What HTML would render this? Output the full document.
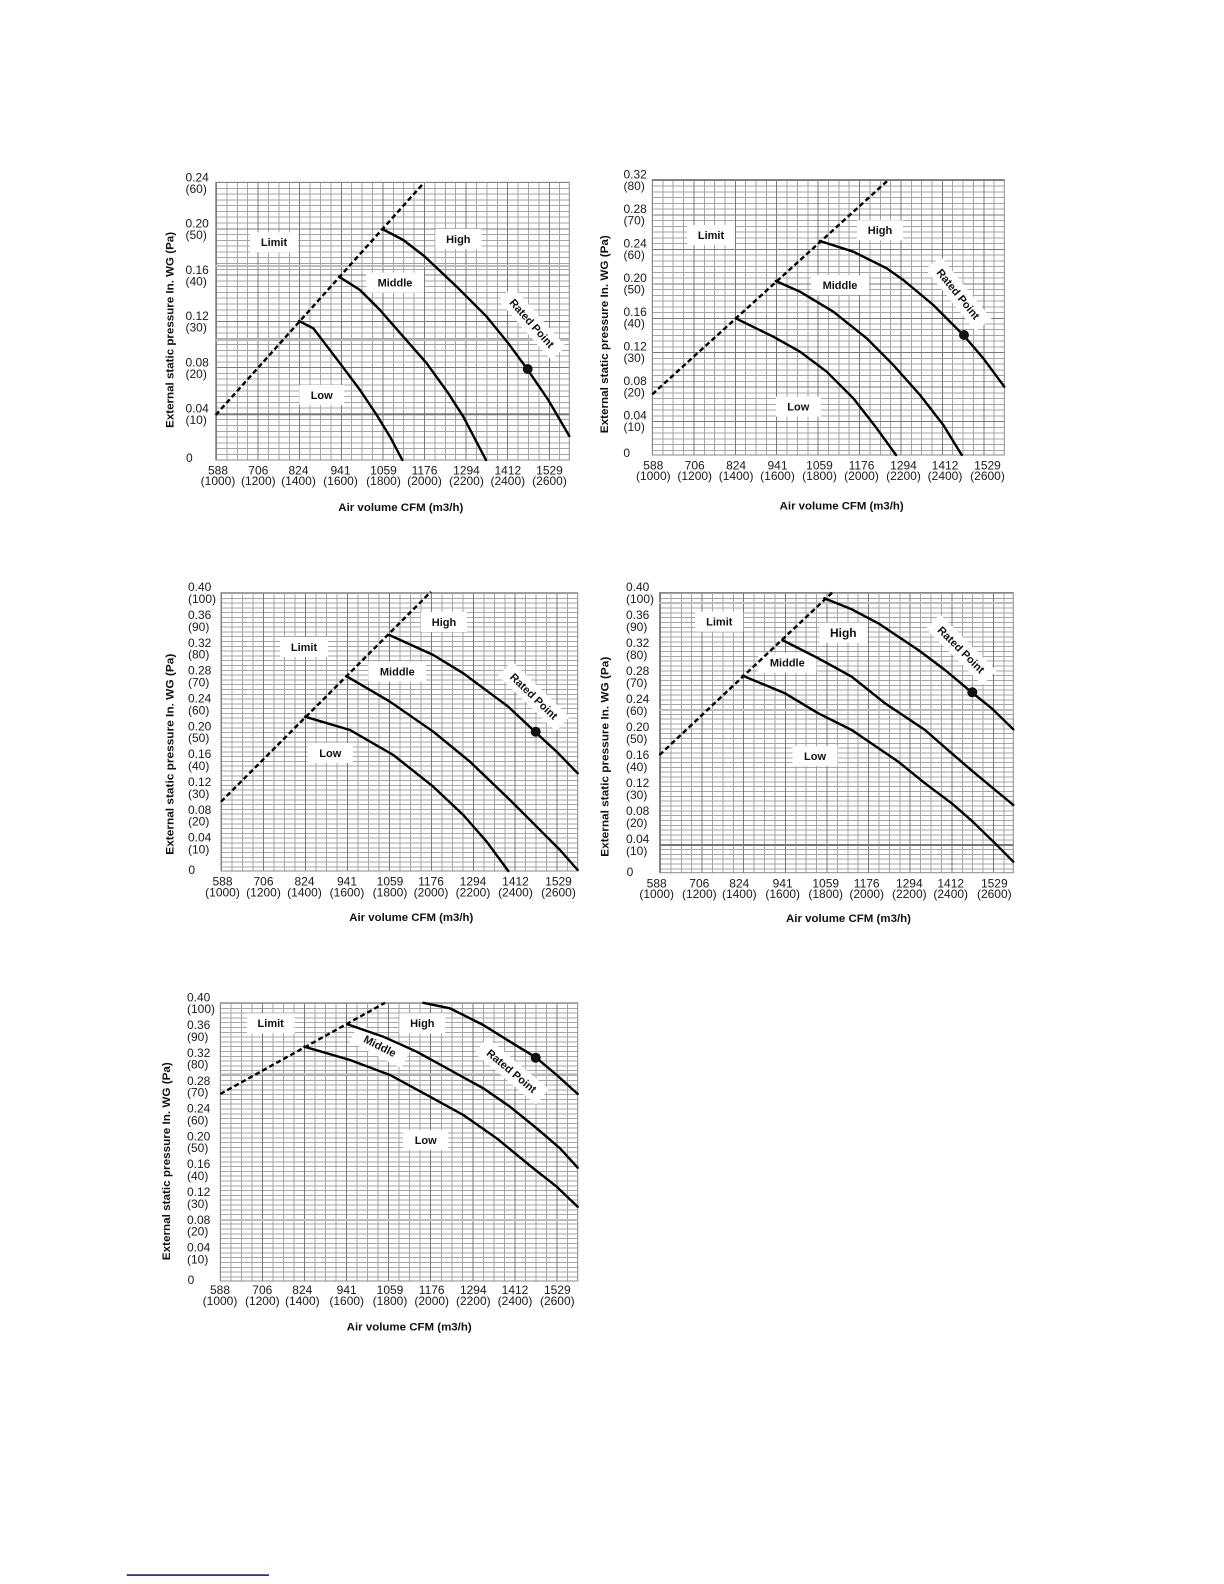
<!DOCTYPE html>
<html>
<head>
<meta charset="utf-8">
<style>
html,body{margin:0;padding:0;background:#fff;}
#wrap{position:relative;width:1224px;height:1584px;overflow:hidden;background:#fff;}
.g{position:absolute;}
svg{position:absolute;left:0;top:0;}
.t{font-family:"Liberation Sans",Arial,sans-serif;font-size:12px;fill:#1a1a1a;}
.lb{font-family:"Liberation Sans",Arial,sans-serif;font-size:11px;font-weight:bold;fill:#111;text-anchor:middle;}
.ti{font-family:"Liberation Sans",Arial,sans-serif;font-size:11px;font-weight:bold;fill:#111;text-anchor:middle;}
.c{fill:none;stroke:#000;stroke-width:2.4;stroke-linejoin:round;stroke-linecap:round;}
.d{fill:none;stroke:#000;stroke-width:2.4;stroke-dasharray:5,3;}
.fr{fill:none;stroke:#8a8a8a;stroke-width:1;}
</style>
</head>
<body>
<div id="wrap">

<div class="g" style="left:215.7px;top:182.3px;width:353.6px;height:277.7px;background:
repeating-linear-gradient(90deg,#7a7a7a 0 1px,transparent 1px 41.6px),
repeating-linear-gradient(180deg,#7a7a7a 0 1px,transparent 1px 46.28px),
repeating-linear-gradient(90deg,#a6a6a6 0 1px,transparent 1px 10.4px),
repeating-linear-gradient(180deg,#a6a6a6 0 1px,transparent 1px 5.785px);"></div>

<div class="g" style="left:652.3px;top:179.5px;width:352px;height:275.5px;background:
repeating-linear-gradient(90deg,#7a7a7a 0 1px,transparent 1px 41.41px),
repeating-linear-gradient(180deg,#7a7a7a 0 1px,transparent 1px 34.44px),
repeating-linear-gradient(90deg,#a6a6a6 0 1px,transparent 1px 10.353px),
repeating-linear-gradient(180deg,#a6a6a6 0 1px,transparent 1px 5.74px);"></div>

<div class="g" style="left:221px;top:592.7px;width:356.7px;height:278.3px;background:
repeating-linear-gradient(90deg,#7a7a7a 0 1px,transparent 1px 41.96px),
repeating-linear-gradient(90deg,#a6a6a6 0 1px,transparent 1px 10.491px),
repeating-linear-gradient(180deg,#a6a6a6 0 1px,transparent 1px 4.798px);"></div>

<div class="g" style="left:659.5px;top:592.5px;width:353.8px;height:280.2px;background:
repeating-linear-gradient(90deg,#7a7a7a 0 1px,transparent 1px 41.62px),
repeating-linear-gradient(90deg,#a6a6a6 0 1px,transparent 1px 10.406px),
repeating-linear-gradient(180deg,#a6a6a6 0 1px,transparent 1px 4.831px);"></div>

<div class="g" style="left:220.3px;top:1002.8px;width:357.4px;height:278.2px;background:
repeating-linear-gradient(90deg,#7a7a7a 0 1px,transparent 1px 42.05px),
repeating-linear-gradient(90deg,#a6a6a6 0 1px,transparent 1px 10.512px),
repeating-linear-gradient(180deg,#a6a6a6 0 1px,transparent 1px 4.797px);"></div>

<svg width="1224" height="1584" viewBox="0 0 1224 1584" xmlns="http://www.w3.org/2000/svg">
<!-- frames -->
<rect class="fr" x="215.7" y="182.3" width="353.6" height="277.7"/>
<rect class="fr" x="652.3" y="179.5" width="352" height="275.5"/>
<rect class="fr" x="221" y="592.7" width="356.7" height="278.3"/>
<rect class="fr" x="659.5" y="592.5" width="353.8" height="280.2"/>
<rect class="fr" x="220.3" y="1002.8" width="357.4" height="278.2"/>

<!-- scan artifact bands -->
<rect x="215.7" y="265" width="353.6" height="2" fill="#bdbdbd"/>
<rect x="215.7" y="339" width="353.6" height="2" fill="#bdbdbd"/>
<rect x="215.7" y="413.3" width="353.6" height="2" fill="#777"/>
<rect x="659.5" y="602" width="353.8" height="2" fill="#bdbdbd"/>
<rect x="659.5" y="709" width="353.8" height="2" fill="#bdbdbd"/>
<rect x="659.5" y="844" width="353.8" height="2" fill="#777"/>
<rect x="220.3" y="1073.3" width="357.4" height="2" fill="#bdbdbd"/>
<rect x="220.3" y="1219" width="357.4" height="2" fill="#bdbdbd"/>

<!-- ===== Chart 1 ===== -->
<g fill="#fff">
<rect x="250" y="232.3" width="48" height="20"/>
<rect x="435.3" y="229" width="46" height="20"/>
<rect x="366" y="272.7" width="58" height="20"/>
<rect x="299.2" y="385" width="45" height="20"/>
<rect x="-40" y="-10" width="80" height="20" transform="translate(532,323.3) rotate(48.5)"/>
</g>
<polyline class="d" points="215.7,415 424,182.7"/>
<polyline class="c" points="382.3,229 403.3,240 425,256.7 456.7,286.7 486.7,316.7 508.3,343.3 526.7,368.3 548.3,400 569.3,436"/>
<polyline class="c" points="339,276.7 360,290 380,310 403.3,336.7 426.7,363.3 448.3,393.3 463.3,416.7 486,460"/>
<polyline class="c" points="299,321 313.3,328.3 340,363.3 360,390 376.7,415 390,436.7 402.3,460"/>
<circle cx="527.7" cy="369" r="5" fill="#111"/>
<text class="lb" x="274" y="246.2">Limit</text>
<text class="lb" x="458.3" y="242.9">High</text>
<text class="lb" x="395" y="286.6">Middle</text>
<text class="lb" x="321.7" y="398.9">Low</text>
<text class="lb" x="0" y="3.9" transform="translate(532,323.3) rotate(48.5)">Rated Point</text>
<g class="t">
<text x="185.5" y="181.3">0.24</text><text x="185.5" y="192.8">(60)</text>
<text x="185.5" y="227.6">0.20</text><text x="185.5" y="239.1">(50)</text>
<text x="185.5" y="273.9">0.16</text><text x="185.5" y="285.4">(40)</text>
<text x="185.5" y="320.2">0.12</text><text x="185.5" y="331.7">(30)</text>
<text x="185.5" y="366.4">0.08</text><text x="185.5" y="377.9">(20)</text>
<text x="185.5" y="412.7">0.04</text><text x="185.5" y="424.2">(10)</text>
<text x="189.3" y="462" text-anchor="middle">0</text>
</g>
<g class="t" text-anchor="middle">
<text x="218" y="474.5">588</text><text x="218" y="485">(1000)</text>
<text x="258.3" y="474.5">706</text><text x="258.3" y="485">(1200)</text>
<text x="298.5" y="474.5">824</text><text x="298.5" y="485">(1400)</text>
<text x="340.5" y="474.5">941</text><text x="340.5" y="485">(1600)</text>
<text x="383.5" y="474.5">1059</text><text x="383.5" y="485">(1800)</text>
<text x="424.5" y="474.5">1176</text><text x="424.5" y="485">(2000)</text>
<text x="466.5" y="474.5">1294</text><text x="466.5" y="485">(2200)</text>
<text x="507.8" y="474.5">1412</text><text x="507.8" y="485">(2400)</text>
<text x="549.5" y="474.5">1529</text><text x="549.5" y="485">(2600)</text>
</g>
<text class="ti" transform="translate(173.3,329.9) rotate(-90)" x="0" y="0" textLength="196" lengthAdjust="spacingAndGlyphs">External static pressure In. WG (Pa)</text>
<text class="ti" x="400.8" y="511" textLength="125" lengthAdjust="spacingAndGlyphs">Air volume CFM (m3/h)</text>

<!-- ===== Chart 2 ===== -->
<g fill="#fff">
<rect x="687" y="225" width="48" height="20"/>
<rect x="857" y="220.3" width="46" height="20"/>
<rect x="811" y="275" width="58" height="20"/>
<rect x="775.8" y="396.7" width="45" height="20"/>
<rect x="-40" y="-10" width="80" height="20" transform="translate(958.3,294) rotate(51)"/>
</g>
<polyline class="d" points="652.3,394.3 888.3,180"/>
<polyline class="c" points="820,241 853.3,251.7 886.7,268.3 903.3,280 933.3,305 963.3,335 983.3,358.3 1004.3,386.7"/>
<polyline class="c" points="775.7,281 800,291.7 833.3,311.7 866.7,338.3 893.3,365 920,395 943.3,425 961.7,455"/>
<polyline class="c" points="735.7,318.3 773.3,336.7 800,351.7 826.7,371.7 853.3,398.3 876.7,428.3 896,455"/>
<circle cx="964" cy="335" r="5" fill="#111"/>
<text class="lb" x="711" y="238.9">Limit</text>
<text class="lb" x="880" y="234.2">High</text>
<text class="lb" x="840" y="288.9">Middle</text>
<text class="lb" x="798.3" y="410.6">Low</text>
<text class="lb" x="0" y="3.9" transform="translate(958.3,294) rotate(51)">Rated Point</text>
<g class="t">
<text x="623.5" y="178.5">0.32</text><text x="623.5" y="190">(80)</text>
<text x="623.5" y="212.9">0.28</text><text x="623.5" y="224.4">(70)</text>
<text x="623.5" y="247.4">0.24</text><text x="623.5" y="258.9">(60)</text>
<text x="623.5" y="281.8">0.20</text><text x="623.5" y="293.3">(50)</text>
<text x="623.5" y="316.2">0.16</text><text x="623.5" y="327.7">(40)</text>
<text x="623.5" y="350.7">0.12</text><text x="623.5" y="362.2">(30)</text>
<text x="623.5" y="385.1">0.08</text><text x="623.5" y="396.6">(20)</text>
<text x="623.5" y="419.6">0.04</text><text x="623.5" y="431.1">(10)</text>
<text x="626.7" y="457" text-anchor="middle">0</text>
</g>
<g class="t" text-anchor="middle">
<text x="653.3" y="469.5">588</text><text x="653.3" y="480">(1000)</text>
<text x="694.7" y="469.5">706</text><text x="694.7" y="480">(1200)</text>
<text x="736.1" y="469.5">824</text><text x="736.1" y="480">(1400)</text>
<text x="777.5" y="469.5">941</text><text x="777.5" y="480">(1600)</text>
<text x="819.5" y="469.5">1059</text><text x="819.5" y="480">(1800)</text>
<text x="861.5" y="469.5">1176</text><text x="861.5" y="480">(2000)</text>
<text x="903.5" y="469.5">1294</text><text x="903.5" y="480">(2200)</text>
<text x="945" y="469.5">1412</text><text x="945" y="480">(2400)</text>
<text x="987.5" y="469.5">1529</text><text x="987.5" y="480">(2600)</text>
</g>
<text class="ti" transform="translate(608,334.2) rotate(-90)" x="0" y="0" textLength="198" lengthAdjust="spacingAndGlyphs">External static pressure In. WG (Pa)</text>
<text class="ti" x="841.7" y="509.5" textLength="124" lengthAdjust="spacingAndGlyphs">Air volume CFM (m3/h)</text>

<!-- ===== Chart 3 ===== -->
<g fill="#fff">
<rect x="280" y="637" width="48" height="20"/>
<rect x="421" y="612" width="46" height="20"/>
<rect x="368.3" y="661.7" width="58" height="20"/>
<rect x="307.8" y="743" width="45" height="20"/>
<rect x="-40" y="-10" width="80" height="20" transform="translate(534,696.3) rotate(44)"/>
</g>
<polyline class="d" points="221,801.7 431,591.7"/>
<polyline class="c" points="389.3,635 433.3,655 463.3,673.3 508.3,706.7 535,731.7 556.7,751.7 577.7,773.3"/>
<polyline class="c" points="347.3,676.7 390,701.7 433.3,731.7 470,761.7 510,800 536.7,826.7 560,850 577.7,870"/>
<polyline class="c" points="305,716.7 350,730 393.3,755 433.3,786.7 463.3,815 486.7,841.7 508.3,871"/>
<circle cx="535.7" cy="731.7" r="5" fill="#111"/>
<text class="lb" x="304" y="650.9">Limit</text>
<text class="lb" x="444" y="625.9">High</text>
<text class="lb" x="397.3" y="675.6">Middle</text>
<text class="lb" x="330.3" y="756.9">Low</text>
<text class="lb" x="0" y="3.9" transform="translate(534,696.3) rotate(44)">Rated Point</text>
<g class="t">
<text x="188" y="591.2">0.40</text><text x="188" y="603">(100)</text>
<text x="188" y="619">0.36</text><text x="188" y="630.8">(90)</text>
<text x="188" y="646.9">0.32</text><text x="188" y="658.7">(80)</text>
<text x="188" y="674.7">0.28</text><text x="188" y="686.5">(70)</text>
<text x="188" y="702.5">0.24</text><text x="188" y="714.3">(60)</text>
<text x="188" y="730.4">0.20</text><text x="188" y="742.2">(50)</text>
<text x="188" y="758.2">0.16</text><text x="188" y="770">(40)</text>
<text x="188" y="786">0.12</text><text x="188" y="797.8">(30)</text>
<text x="188" y="813.9">0.08</text><text x="188" y="825.7">(20)</text>
<text x="188" y="841.7">0.04</text><text x="188" y="853.5">(10)</text>
<text x="191.7" y="874" text-anchor="middle">0</text>
</g>
<g class="t" text-anchor="middle">
<text x="222.5" y="885.7">588</text><text x="222.5" y="896.7">(1000)</text>
<text x="263.5" y="885.7">706</text><text x="263.5" y="896.7">(1200)</text>
<text x="304.5" y="885.7">824</text><text x="304.5" y="896.7">(1400)</text>
<text x="347" y="885.7">941</text><text x="347" y="896.7">(1600)</text>
<text x="390" y="885.7">1059</text><text x="390" y="896.7">(1800)</text>
<text x="431" y="885.7">1176</text><text x="431" y="896.7">(2000)</text>
<text x="473" y="885.7">1294</text><text x="473" y="896.7">(2200)</text>
<text x="515.5" y="885.7">1412</text><text x="515.5" y="896.7">(2400)</text>
<text x="558.5" y="885.7">1529</text><text x="558.5" y="896.7">(2600)</text>
</g>
<text class="ti" transform="translate(173.3,754.2) rotate(-90)" x="0" y="0" textLength="201" lengthAdjust="spacingAndGlyphs">External static pressure In. WG (Pa)</text>
<text class="ti" x="411.3" y="921" textLength="124" lengthAdjust="spacingAndGlyphs">Air volume CFM (m3/h)</text>

<!-- ===== Chart 4 ===== -->
<g fill="#fff">
<rect x="695.3" y="611.7" width="48" height="20"/>
<rect x="819.3" y="622.7" width="48" height="20"/>
<rect x="758.3" y="652.7" width="58" height="20"/>
<rect x="792.5" y="746" width="45" height="20"/>
<rect x="-40" y="-10" width="80" height="20" transform="translate(961.3,649.7) rotate(45)"/>
</g>
<polyline class="d" points="659.5,755 832.3,592.5"/>
<polyline class="c" points="824.3,598.3 851.7,609.3 878.3,623.3 918.3,650 945,670 971.7,692.3 991.7,708.3 1013.3,729.3"/>
<polyline class="c" points="782.3,640 818.3,658.3 851.7,676.7 885,703.3 925,730 951.7,753.3 975,773.3 1013.3,805"/>
<polyline class="c" points="742.7,675.7 785,693.3 818.3,713.3 851.7,730 898.3,761.7 925,783.3 951.7,803.3 971.7,820.7 995,843.3 1013.3,861.7"/>
<circle cx="972.3" cy="692.3" r="5" fill="#111"/>
<text class="lb" x="719.3" y="625.6">Limit</text>
<text class="lb" x="843.3" y="637.2" style="font-size:12px">High</text>
<text class="lb" x="787.3" y="666.6">Middle</text>
<text class="lb" x="815" y="759.9">Low</text>
<text class="lb" x="0" y="3.9" transform="translate(961.3,649.7) rotate(45)">Rated Point</text>
<g class="t">
<text x="626" y="591">0.40</text><text x="626" y="602.8">(100)</text>
<text x="626" y="619">0.36</text><text x="626" y="630.8">(90)</text>
<text x="626" y="647">0.32</text><text x="626" y="658.8">(80)</text>
<text x="626" y="675.1">0.28</text><text x="626" y="686.9">(70)</text>
<text x="626" y="703.1">0.24</text><text x="626" y="714.9">(60)</text>
<text x="626" y="731.1">0.20</text><text x="626" y="742.9">(50)</text>
<text x="626" y="759.1">0.16</text><text x="626" y="770.9">(40)</text>
<text x="626" y="787.1">0.12</text><text x="626" y="798.9">(30)</text>
<text x="626" y="815.1">0.08</text><text x="626" y="826.9">(20)</text>
<text x="626" y="843.2">0.04</text><text x="626" y="855">(10)</text>
<text x="630" y="876" text-anchor="middle">0</text>
</g>
<g class="t" text-anchor="middle">
<text x="656.7" y="887.3">588</text><text x="656.7" y="898">(1000)</text>
<text x="699.3" y="887.3">706</text><text x="699.3" y="898">(1200)</text>
<text x="739.3" y="887.3">824</text><text x="739.3" y="898">(1400)</text>
<text x="782.7" y="887.3">941</text><text x="782.7" y="898">(1600)</text>
<text x="825.7" y="887.3">1059</text><text x="825.7" y="898">(1800)</text>
<text x="866.7" y="887.3">1176</text><text x="866.7" y="898">(2000)</text>
<text x="909.3" y="887.3">1294</text><text x="909.3" y="898">(2200)</text>
<text x="950.7" y="887.3">1412</text><text x="950.7" y="898">(2400)</text>
<text x="994.3" y="887.3">1529</text><text x="994.3" y="898">(2600)</text>
</g>
<text class="ti" transform="translate(608.3,756.7) rotate(-90)" x="0" y="0" textLength="200" lengthAdjust="spacingAndGlyphs">External static pressure In. WG (Pa)</text>
<text class="ti" x="848.5" y="922" textLength="125" lengthAdjust="spacingAndGlyphs">Air volume CFM (m3/h)</text>

<!-- ===== Chart 5 ===== -->
<g fill="#fff">
<rect x="246.7" y="1013.3" width="48" height="20"/>
<rect x="399.3" y="1013.3" width="46" height="20"/>
<rect x="-29" y="-10" width="58" height="20" transform="translate(380,1046) rotate(27)"/>
<rect x="403.2" y="1130" width="45" height="20"/>
<rect x="-40" y="-10" width="80" height="20" transform="translate(511.7,1071) rotate(40)"/>
</g>
<polyline class="d" points="220.3,1094 385,1002.8"/>
<polyline class="c" points="423.3,1002.8 450,1008.3 483.3,1025 510,1041.7 535.7,1057.3 556.7,1075 577.7,1094"/>
<polyline class="c" points="347.3,1024.3 383.3,1036.7 416.7,1051.7 450,1070 483.3,1088.3 510,1106.7 536.7,1128.3 560,1148.3 577.7,1167.7"/>
<polyline class="c" points="304.3,1046.7 350,1060 390,1075 430,1096.7 463.3,1115 496.7,1138.3 533.3,1168.3 556.7,1186.7 577.7,1206.7"/>
<circle cx="535.7" cy="1057.7" r="5" fill="#111"/>
<text class="lb" x="270.7" y="1027.2">Limit</text>
<text class="lb" x="422.3" y="1027.2">High</text>
<text class="lb" x="0" y="3.9" transform="translate(380,1046) rotate(27)">Middle</text>
<text class="lb" x="425.7" y="1143.9">Low</text>
<text class="lb" x="0" y="3.9" transform="translate(511.7,1071) rotate(40)">Rated Point</text>
<g class="t">
<text x="187" y="1001.3">0.40</text><text x="187" y="1013.1">(100)</text>
<text x="187" y="1029.1">0.36</text><text x="187" y="1040.9">(90)</text>
<text x="187" y="1056.9">0.32</text><text x="187" y="1068.7">(80)</text>
<text x="187" y="1084.8">0.28</text><text x="187" y="1096.6">(70)</text>
<text x="187" y="1112.6">0.24</text><text x="187" y="1124.4">(60)</text>
<text x="187" y="1140.4">0.20</text><text x="187" y="1152.2">(50)</text>
<text x="187" y="1168.2">0.16</text><text x="187" y="1180">(40)</text>
<text x="187" y="1196">0.12</text><text x="187" y="1207.8">(30)</text>
<text x="187" y="1223.9">0.08</text><text x="187" y="1235.7">(20)</text>
<text x="187" y="1251.7">0.04</text><text x="187" y="1263.5">(10)</text>
<text x="191" y="1284" text-anchor="middle">0</text>
</g>
<g class="t" text-anchor="middle">
<text x="220" y="1294">588</text><text x="220" y="1305">(1000)</text>
<text x="262.3" y="1294">706</text><text x="262.3" y="1305">(1200)</text>
<text x="302.3" y="1294">824</text><text x="302.3" y="1305">(1400)</text>
<text x="346.7" y="1294">941</text><text x="346.7" y="1305">(1600)</text>
<text x="390" y="1294">1059</text><text x="390" y="1305">(1800)</text>
<text x="431.7" y="1294">1176</text><text x="431.7" y="1305">(2000)</text>
<text x="473.3" y="1294">1294</text><text x="473.3" y="1305">(2200)</text>
<text x="515" y="1294">1412</text><text x="515" y="1305">(2400)</text>
<text x="557.3" y="1294">1529</text><text x="557.3" y="1305">(2600)</text>
</g>
<text class="ti" transform="translate(170,1161.2) rotate(-90)" x="0" y="0" textLength="198" lengthAdjust="spacingAndGlyphs">External static pressure In. WG (Pa)</text>
<text class="ti" x="409.2" y="1330.5" textLength="125" lengthAdjust="spacingAndGlyphs">Air volume CFM (m3/h)</text>

<!-- footnote rule -->
<rect x="126.7" y="1574.3" width="142.3" height="1.6" fill="#1a1a8c"/>
</svg>
</div>
</body>
</html>
